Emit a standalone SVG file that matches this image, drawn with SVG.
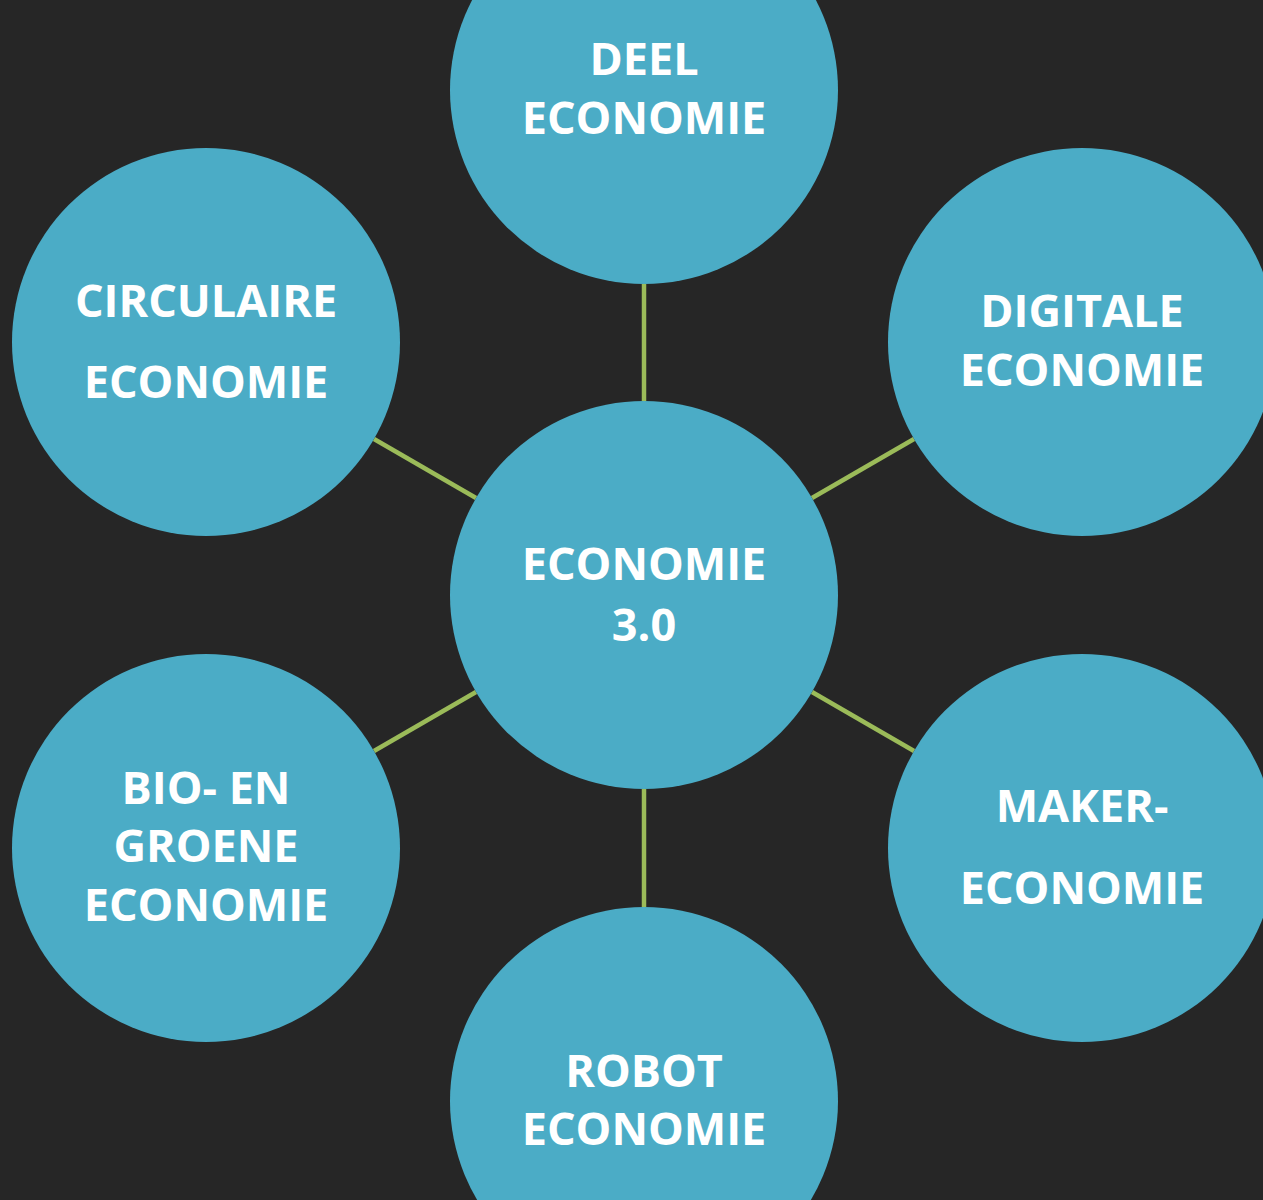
<svg xmlns="http://www.w3.org/2000/svg" width="1263" height="1200" viewBox="0 0 1263 1200">
<style>
.n{fill:#4BACC6}
.t{fill:#fff;font-family:"Open Sans","Liberation Sans",sans-serif;font-weight:bold;font-size:45px;text-anchor:middle}
.c line{stroke:#9BBB59;stroke-width:4.5}
</style>
<rect width="1263" height="1200" fill="#262626"/>
<g class="c">
<line x1="644" y1="284" x2="644" y2="401"/>
<line x1="644" y1="789" x2="644" y2="907"/>
<line x1="374" y1="439" x2="476" y2="498"/>
<line x1="914" y1="439" x2="812" y2="498"/>
<line x1="374" y1="751" x2="476" y2="692"/>
<line x1="914" y1="751" x2="812" y2="692"/>
</g>
<g id="center"><circle class="n" cx="644" cy="595" r="194"/><text class="t" x="644" y="580">ECONOMIE</text><text class="t" x="644" y="641">3.0</text></g>
<g id="deel"><circle class="n" cx="644" cy="90" r="194"/><text class="t" x="644" y="75">DEEL</text><text class="t" x="644" y="134">ECONOMIE</text></g>
<g id="circulaire"><circle class="n" cx="206" cy="342" r="194"/><text class="t" x="206" y="317">CIRCULAIRE</text><text class="t" x="206" y="398">ECONOMIE</text></g>
<g id="digitale"><circle class="n" cx="1082" cy="342" r="194"/><text class="t" x="1082" y="327">DIGITALE</text><text class="t" x="1082" y="386">ECONOMIE</text></g>
<g id="bio"><circle class="n" cx="206" cy="848" r="194"/><text class="t" x="206" y="804">BIO- EN</text><text class="t" x="206" y="862">GROENE</text><text class="t" x="206" y="921">ECONOMIE</text></g>
<g id="maker"><circle class="n" cx="1082" cy="848" r="194"/><text class="t" x="1082" y="822">MAKER-</text><text class="t" x="1082" y="904">ECONOMIE</text></g>
<g id="robot"><circle class="n" cx="644" cy="1101" r="194"/><text class="t" x="644" y="1087">ROBOT</text><text class="t" x="644" y="1145">ECONOMIE</text></g>
</svg>
